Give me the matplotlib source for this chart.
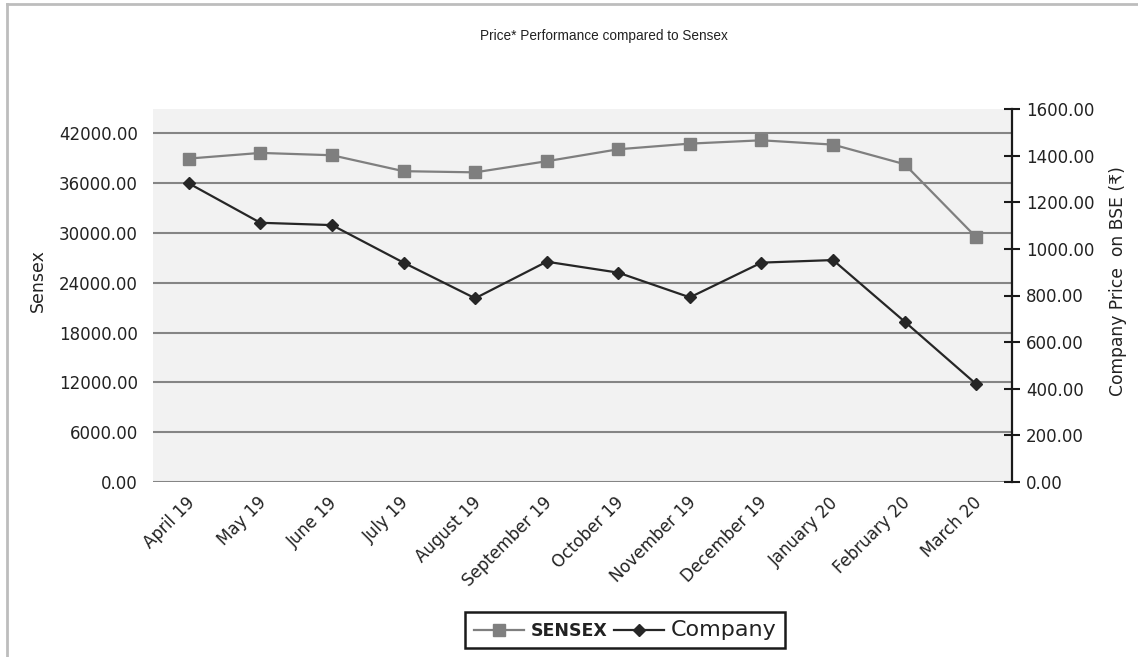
import matplotlib
matplotlib.use('Agg')
import matplotlib.pyplot as plt
from matplotlib.lines import Line2D
from matplotlib.ticker import StrMethodFormatter, FixedLocator
from matplotlib.transforms import ScaledTranslation
import numpy as np

months = ["April 19", "May 19", "June 19", "July 19", "August 19", "September 19",
          "October 19", "November 19", "December 19", "January 20", "February 20", "March 20"]
sensex = [38960, 39640, 39360, 37440, 37300, 38640, 40080, 40760, 41160, 40640, 38280, 29480]
company = [1281, 1112, 1102, 941, 788, 945, 898, 792, 941, 952, 688, 420]
sensex_ticks = [0, 6000, 12000, 18000, 24000, 30000, 36000, 42000]
company_ticks = [0, 200, 400, 600, 800, 1000, 1200, 1400, 1600]

W, H = 1138, 657
fig = plt.figure(figsize=(W / 100, H / 100), dpi=100)
ax = fig.add_axes([153 / W, 1 - 482 / H, (1012 - 153) / W, (482 - 109) / H])
ax.set_facecolor('#f2f2f2')
ax2 = ax.twinx()

xpos = np.arange(len(months))
txt = '#222222'

l1, = ax.plot(xpos, sensex, color='#7f7f7f', lw=1.6, marker='s', markersize=8.5,
              markerfacecolor='#7f7f7f', markeredgecolor='#7f7f7f', label='SENSEX', zorder=3)
l2, = ax2.plot(xpos, company, color='#262626', lw=1.6, marker='D', markersize=6,
               markerfacecolor='#262626', markeredgecolor='#262626', label='Company', zorder=3)

ax.set_xlim(-0.5, len(months) - 0.5)
ax.set_ylim(0, 44930)
ax2.set_ylim(0, 1600)

ax.yaxis.set_major_locator(FixedLocator(sensex_ticks))
ax.yaxis.set_major_formatter(StrMethodFormatter('{x:.2f}'))
ax2.yaxis.set_major_locator(FixedLocator(company_ticks))
ax2.yaxis.set_major_formatter(StrMethodFormatter('{x:.2f}'))

ax.set_axisbelow(True)
ax.yaxis.grid(True, color='#858585', lw=1.5)
ax.xaxis.grid(False)

for s in ax.spines.values():
    s.set_visible(False)
for k, s in ax2.spines.items():
    s.set_visible(k == 'right')
ax2.spines['right'].set_color('#1a1a1a')
ax2.spines['right'].set_linewidth(1.6)

ax.tick_params(axis='y', length=0, pad=11, labelsize=12, labelcolor=txt)
ax.tick_params(axis='x', length=0, pad=13, labelsize=12, labelcolor=txt)
ax2.tick_params(axis='y', direction='inout', length=12, width=1.5, color='#1a1a1a',
                pad=4, labelsize=12, labelcolor=txt)

ax.set_xticks(xpos)
ax.set_xticklabels(months, rotation=45, ha='right', va='center', rotation_mode='anchor')
shift = ScaledTranslation(3 / 100, 0, fig.dpi_scale_trans)
for lab in ax.get_xticklabels():
    lab.set_transform(lab.get_transform() + shift)

fig.text(38 / W, 1 - 281 / H, 'Sensex', rotation=90, ha='center', va='center',
         fontsize=12.5, color=txt)
fig.text(1118 / W, 1 - 281 / H, 'Company Price  on BSE (₹)', rotation=90, ha='center',
         va='center', fontsize=12.3, color=txt)
fig.text(604 / W, 1 - 36 / H, 'Price* Performance compared to Sensex', ha='center',
         va='center', fontsize=9.8, color=txt, family='Liberation Sans')

leg = fig.legend([l1, l2], ['SENSEX', 'Company'], loc='center',
                 bbox_to_anchor=(625 / W, 1 - 630 / H), ncol=2, frameon=True,
                 fancybox=False, framealpha=1, edgecolor='#1a1a1a', fontsize=12,
                 handlelength=3.0, handletextpad=0.4, columnspacing=0.4,
                 borderpad=0.5, borderaxespad=0)
leg.get_frame().set_linewidth(1.8)
t1, t2 = leg.get_texts()
t1.set_fontweight('bold')
t1.set_fontsize(12.5)
t2.set_fontsize(16)
for t in leg.get_texts():
    t.set_color(txt)

fig.add_artist(Line2D([7 / W, 7 / W], [0, 1 - 4 / H], transform=fig.transFigure,
                      color='#bdbdbd', lw=2))
fig.add_artist(Line2D([7 / W, 1], [1 - 4 / H, 1 - 4 / H], transform=fig.transFigure,
                      color='#bdbdbd', lw=2))

fig.savefig('out.png', dpi=100, facecolor='white')
